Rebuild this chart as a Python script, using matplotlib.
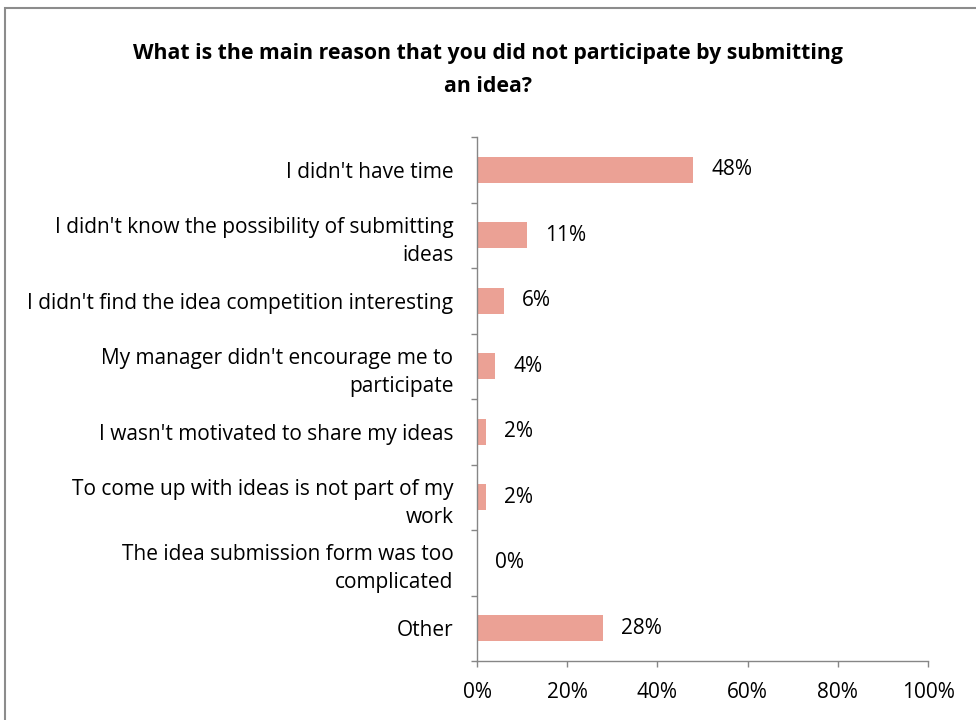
import matplotlib
matplotlib.use("Agg")
import matplotlib.pyplot as plt
from matplotlib.patches import Rectangle
from matplotlib.ticker import FuncFormatter

categories = [
    "I didn't have time",
    "I didn't know the possibility of submitting\nideas",
    "I didn't find the idea competition interesting",
    "My manager didn't encourage me to\nparticipate",
    "I wasn't motivated to share my ideas",
    "To come up with ideas is not part of my\nwork",
    "The idea submission form was too\ncomplicated",
    "Other",
]
values = [48, 11, 6, 4, 2, 2, 0, 28]
labels = ["48%", "11%", "6%", "4%", "2%", "2%", "0%", "28%"]
xticks = [0, 20, 40, 60, 80, 100]
title = "What is the main reason that you did not participate by submitting\nan idea?"

plt.rcParams['font.family'] = ['Open Sans', 'DejaVu Sans']

fig = plt.figure(figsize=(9.76, 7.2), dpi=100)
fig.patches.append(Rectangle((5/976, -0.5), 2.0, 1.5 - 8/720, transform=fig.transFigure,
                             fill=False, edgecolor='#8c8c8c', linewidth=1.5))
ax = fig.add_axes([477/976, 1 - 661/720, 451/976, (661 - 137)/720])

n = len(categories)
ypos = list(range(n))
ax.barh(ypos, values, height=0.4, color='#EBA195', edgecolor='none')
for y, v, lab in zip(ypos, values, labels):
    ax.annotate(lab, (v, y), xytext=(13, 0), textcoords='offset points',
                va='center', ha='left', fontsize=15, color='black')

ax.set_xlim(0, 100)
ax.set_ylim(n - 0.5, -0.5)
ax.set_xticks(xticks)
ax.xaxis.set_major_formatter(FuncFormatter(lambda x, p: f"{int(x)}%"))
ax.set_yticks(ypos)
ax.set_yticklabels(categories, fontsize=15, ha='right', multialignment='right', linespacing=1.45)
ax.set_yticks([i - 0.5 for i in range(n + 1)], minor=True)
ax.tick_params(axis='y', which='major', length=0, pad=17)
ax.tick_params(axis='y', which='minor', length=4, color='#868686', width=1)
ax.tick_params(axis='x', which='major', length=4, color='#868686', width=1, labelsize=15, pad=11)

for s in ['top', 'right']:
    ax.spines[s].set_visible(False)
for s in ['left', 'bottom']:
    ax.spines[s].set_color('#868686')
    ax.spines[s].set_linewidth(1)

fig.text(488/976, 1 - 70/720, title, ha='center', va='center', fontsize=15.3,
         fontweight='bold', linespacing=1.7)

fig.savefig("out.png", dpi=100)
